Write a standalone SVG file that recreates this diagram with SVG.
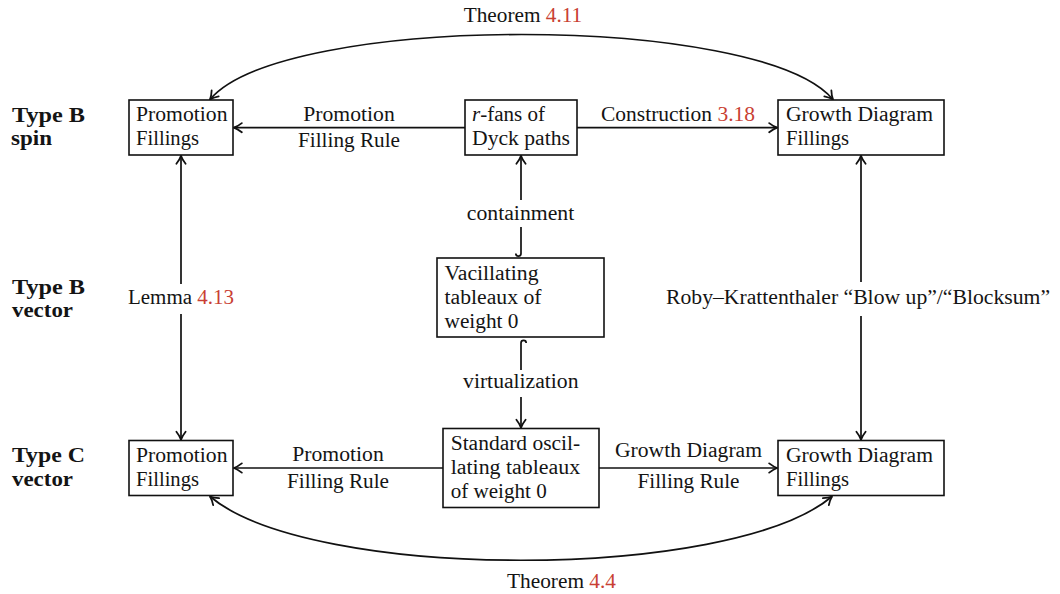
<svg xmlns="http://www.w3.org/2000/svg" width="1060" height="594" viewBox="0 0 1060 594">
<defs>
<style>
.t{font-family:"Liberation Serif","Times New Roman",serif;font-size:20px;fill:#141414}
.bd{font-weight:bold}
.ref{fill:#c93f33}
.it{font-style:italic}
.box{fill:#fff;stroke:#111;stroke-width:1.6}
.edge{fill:none;stroke:#111;stroke-width:1.7;marker-end:url(#ah)}
.both{marker-start:url(#ah)}
</style>
<marker id="ah" viewBox="-10 -6 11 12" refX="0" refY="0" markerWidth="11" markerHeight="12" markerUnits="userSpaceOnUse" orient="auto-start-reverse">
<path d="M-8,-4.6 Q-3.5,-1.1 0,0 Q-3.5,1.1 -8,4.6" fill="none" stroke="#111" stroke-width="1.8" stroke-linecap="round" stroke-linejoin="round"/>
</marker>
</defs>
<rect width="1060" height="594" fill="#fff"/>

<g id="row-labels">
<text class="t bd" x="12" y="121.5" textLength="73" lengthAdjust="spacingAndGlyphs">Type B</text>
<text class="t bd" x="11" y="144.5" textLength="41" lengthAdjust="spacingAndGlyphs">spin</text>
<text class="t bd" x="12" y="293.5" textLength="73" lengthAdjust="spacingAndGlyphs">Type B</text>
<text class="t bd" x="12" y="317" textLength="61" lengthAdjust="spacingAndGlyphs">vector</text>
<text class="t bd" x="12" y="461.5" textLength="73" lengthAdjust="spacingAndGlyphs">Type C</text>
<text class="t bd" x="12" y="485.5" textLength="61" lengthAdjust="spacingAndGlyphs">vector</text>
</g>

<g id="connectors">
<path class="edge" d="M465,127.7 H233.8"/>
<path class="edge" d="M577,127.7 H777.2"/>
<path class="edge" d="M443,468 H233.8"/>
<path class="edge" d="M599,468 H777.2"/>
<path class="edge both" d="M181,155.8 V284 M181,314 V439.7"/>
<path class="edge both" d="M861,155.8 V282 M861,316 V439.7"/>
<path class="edge" d="M515.8,253.5 A2.6,2.6 0 0 0 521,253.5 V227 M521,200 V155.8"/>
<path class="edge" d="M526.2,343 A2.6,2.6 0 0 0 521,343 V370 M521,397 V427.7"/>
<path class="edge both" d="M210,99.5 C283,12.8 760,12.8 833,99.5"/>
<path class="edge both" d="M210,496.5 C311,581.5 731,581.5 832,496.5"/>

<text class="t" x="523" y="22" text-anchor="middle" textLength="118.5" lengthAdjust="spacingAndGlyphs">Theorem <tspan class="ref">4.11</tspan></text>
<text class="t" x="349" y="120.7" text-anchor="middle" textLength="91.5" lengthAdjust="spacingAndGlyphs">Promotion</text>
<text class="t" x="349" y="147" text-anchor="middle" textLength="102" lengthAdjust="spacingAndGlyphs">Filling Rule</text>
<text class="t" x="678" y="120.7" text-anchor="middle" textLength="154" lengthAdjust="spacingAndGlyphs">Construction <tspan class="ref">3.18</tspan></text>
<text class="t" x="520.5" y="219.5" text-anchor="middle" textLength="107.5" lengthAdjust="spacingAndGlyphs">containment</text>
<text class="t" x="181" y="304" text-anchor="middle" textLength="106" lengthAdjust="spacingAndGlyphs">Lemma <tspan class="ref">4.13</tspan></text>
<text class="t" x="858" y="304" text-anchor="middle" textLength="384" lengthAdjust="spacingAndGlyphs">Roby–Krattenthaler “Blow up”/“Blocksum”</text>
<text class="t" x="520.8" y="388.3" text-anchor="middle" textLength="115.5" lengthAdjust="spacingAndGlyphs">virtualization</text>
<text class="t" x="338" y="460.7" text-anchor="middle" textLength="91.5" lengthAdjust="spacingAndGlyphs">Promotion</text>
<text class="t" x="338" y="488" text-anchor="middle" textLength="102" lengthAdjust="spacingAndGlyphs">Filling Rule</text>
<text class="t" x="688.5" y="456.5" text-anchor="middle" textLength="147" lengthAdjust="spacingAndGlyphs">Growth Diagram</text>
<text class="t" x="688.5" y="488" text-anchor="middle" textLength="102" lengthAdjust="spacingAndGlyphs">Filling Rule</text>
<text class="t" x="561.5" y="588" text-anchor="middle" textLength="109" lengthAdjust="spacingAndGlyphs">Theorem <tspan class="ref">4.4</tspan></text>
</g>

<g id="node-promotion-spin">
<rect class="box" x="129" y="100" width="104" height="55"/>
<text class="t" x="136" y="121" textLength="91.5" lengthAdjust="spacingAndGlyphs">Promotion</text>
<text class="t" x="136" y="145" textLength="63" lengthAdjust="spacingAndGlyphs">Fillings</text>
</g>

<g id="node-rfans">
<rect class="box" x="465" y="100" width="112" height="55"/>
<text class="t" x="472" y="121" textLength="73" lengthAdjust="spacingAndGlyphs"><tspan class="it">r</tspan>-fans of</text>
<text class="t" x="472" y="145" textLength="98" lengthAdjust="spacingAndGlyphs">Dyck paths</text>
</g>

<g id="node-growth-spin">
<rect class="box" x="778" y="100" width="166" height="55"/>
<text class="t" x="786" y="121" textLength="147" lengthAdjust="spacingAndGlyphs">Growth Diagram</text>
<text class="t" x="786" y="145" textLength="63" lengthAdjust="spacingAndGlyphs">Fillings</text>
</g>

<g id="node-vacillating">
<rect class="box" x="437" y="258" width="167" height="79"/>
<text class="t" x="444.5" y="279.5" textLength="94" lengthAdjust="spacingAndGlyphs">Vacillating</text>
<text class="t" x="444.5" y="303.7" textLength="97" lengthAdjust="spacingAndGlyphs">tableaux of</text>
<text class="t" x="444.5" y="327.9" textLength="74" lengthAdjust="spacingAndGlyphs">weight 0</text>
</g>

<g id="node-oscillating">
<rect class="box" x="443" y="428.5" width="156" height="79"/>
<text class="t" x="450.7" y="449.5" textLength="129.5" lengthAdjust="spacingAndGlyphs">Standard oscil-</text>
<text class="t" x="450.7" y="473.5" textLength="129.5" lengthAdjust="spacingAndGlyphs">lating tableaux</text>
<text class="t" x="450.7" y="497.5" textLength="96" lengthAdjust="spacingAndGlyphs">of weight 0</text>
</g>

<g id="node-promotion-vector">
<rect class="box" x="129" y="440.5" width="104" height="55"/>
<text class="t" x="136" y="461.5" textLength="91.5" lengthAdjust="spacingAndGlyphs">Promotion</text>
<text class="t" x="136" y="485.5" textLength="63" lengthAdjust="spacingAndGlyphs">Fillings</text>
</g>

<g id="node-growth-vector">
<rect class="box" x="778" y="440.5" width="166" height="55"/>
<text class="t" x="786" y="461.5" textLength="147" lengthAdjust="spacingAndGlyphs">Growth Diagram</text>
<text class="t" x="786" y="485.5" textLength="63" lengthAdjust="spacingAndGlyphs">Fillings</text>
</g>
</svg>
